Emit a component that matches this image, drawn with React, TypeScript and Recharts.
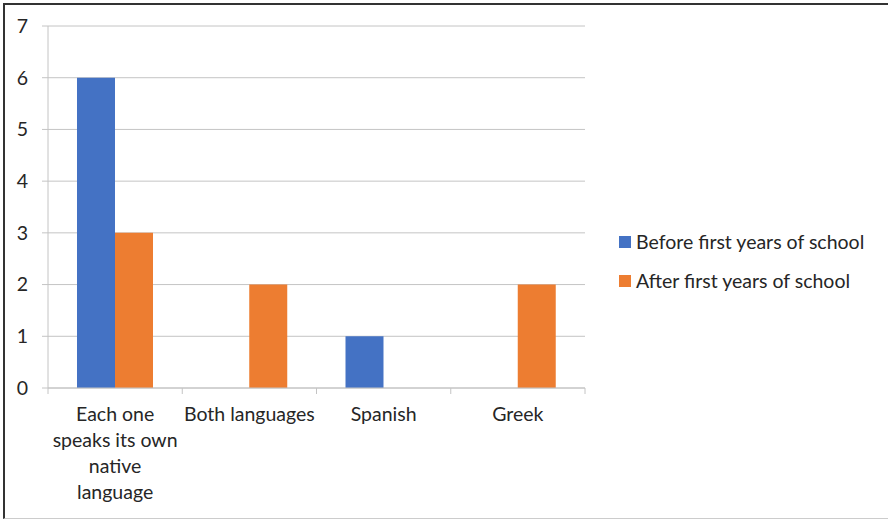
import { BarChart, Bar, XAxis, YAxis, CartesianGrid, Legend } from "recharts";

const categories = [
  "Each one speaks its own native language",
  "Both languages",
  "Spanish",
  "Greek",
];
const beforeSchool = [6, 0, 1, 0];
const afterSchool = [3, 2, 0, 2];
const yTicks = [0, 1, 2, 3, 4, 5, 6, 7];

const seriesInfo = [
  { key: "before", name: "Before first years of school", color: "#4472C4" },
  { key: "after", name: "After first years of school", color: "#ED7D31" },
];

const data = categories.map((c, i) => ({
  category: c,
  before: beforeSchool[i],
  after: afterSchool[i],
}));

const FONT = "Lato, 'Open Sans', sans-serif";
const FS = 19.5;
const TEXT = "#262626";
const GRID = "#c4c4c4";

// word-wrap at ~14 characters like the original chart
const wrap = (s: string, max = 14) => {
  const lines: string[] = [];
  let cur = "";
  s.split(" ").forEach((w) => {
    const next = cur ? cur + " " + w : w;
    if (next.length > max && cur) {
      lines.push(cur);
      cur = w;
    } else cur = next;
  });
  if (cur) lines.push(cur);
  return lines;
};

// label plus the tick marks at the category boundaries
const CategoryTick = (props: any) => {
  const { x, y, payload, index, visibleTicksCount } = props;
  const lines = wrap(String(payload.value));
  const half = payload.offset || 0;
  const axisY = y - 8;
  const isLast = index === (visibleTicksCount ?? categories.length) - 1;
  return (
    <g>
      <line x1={x - half} x2={x - half} y1={axisY} y2={axisY + 6} stroke={GRID} />
      {isLast && (
        <line x1={x + half} x2={x + half} y1={axisY} y2={axisY + 6} stroke={GRID} />
      )}
      <text x={x} y={y} textAnchor="middle" fill={TEXT} fontSize={FS} fontFamily={FONT}>
        {lines.map((l, i) => (
          <tspan key={i} x={x} dy={i === 0 ? 25 : 26}>
            {l}
          </tspan>
        ))}
      </text>
    </g>
  );
};

const LegendBox = () => (
  <div style={{ fontFamily: FONT, fontSize: FS, color: TEXT }}>
    {seriesInfo.map((s) => (
      <div key={s.key} style={{ display: "flex", alignItems: "center", height: 39 }}>
        <span style={{ width: 12, height: 12, background: s.color, marginRight: 5 }} />
        <span>{s.name}</span>
      </div>
    ))}
  </div>
);

export default function App() {
  return (
    <div
      style={{
        position: "absolute",
        left: 0,
        top: 0,
        width: 888,
        height: 519,
        background: "#fff",
      }}
    >
      <div
        style={{
          position: "absolute",
          left: 3,
          top: 3,
          width: 890,
          height: 513,
          borderLeft: "2px solid #333",
          borderTop: "2px solid #333",
          borderBottom: "1px solid #ccc",
        }}
      />
      <div style={{ position: "absolute", left: 0, top: 0 }}>
        <BarChart
          width={888}
          height={519}
          data={data}
          margin={{ top: 26, right: 303, bottom: 0, left: 0 }}
          barCategoryGap="21.6%"
          barGap={0}
        >
          <CartesianGrid vertical={false} stroke={GRID} />
          <XAxis
            dataKey="category"
            height={131}
            axisLine={{ stroke: GRID }}
            tickLine={false}
            interval={0}
            tick={<CategoryTick />}
          />
          <YAxis
            domain={[0, 7]}
            ticks={yTicks}
            width={48}
            stroke={GRID}
            tickSize={6}
            tickMargin={14}
            axisLine={{ stroke: GRID }}
            tick={{ fill: TEXT, fontSize: FS, fontFamily: FONT }}
          />
          <Legend
            layout="vertical"
            align="center"
            verticalAlign="middle"
            wrapperStyle={{ left: 619, top: 222, width: 268 }}
            content={<LegendBox />}
          />
          {seriesInfo.map((s) => (
            <Bar
              key={s.key}
              dataKey={s.key}
              name={s.name}
              fill={s.color}
              isAnimationActive={false}
            />
          ))}
        </BarChart>
      </div>
    </div>
  );
}
